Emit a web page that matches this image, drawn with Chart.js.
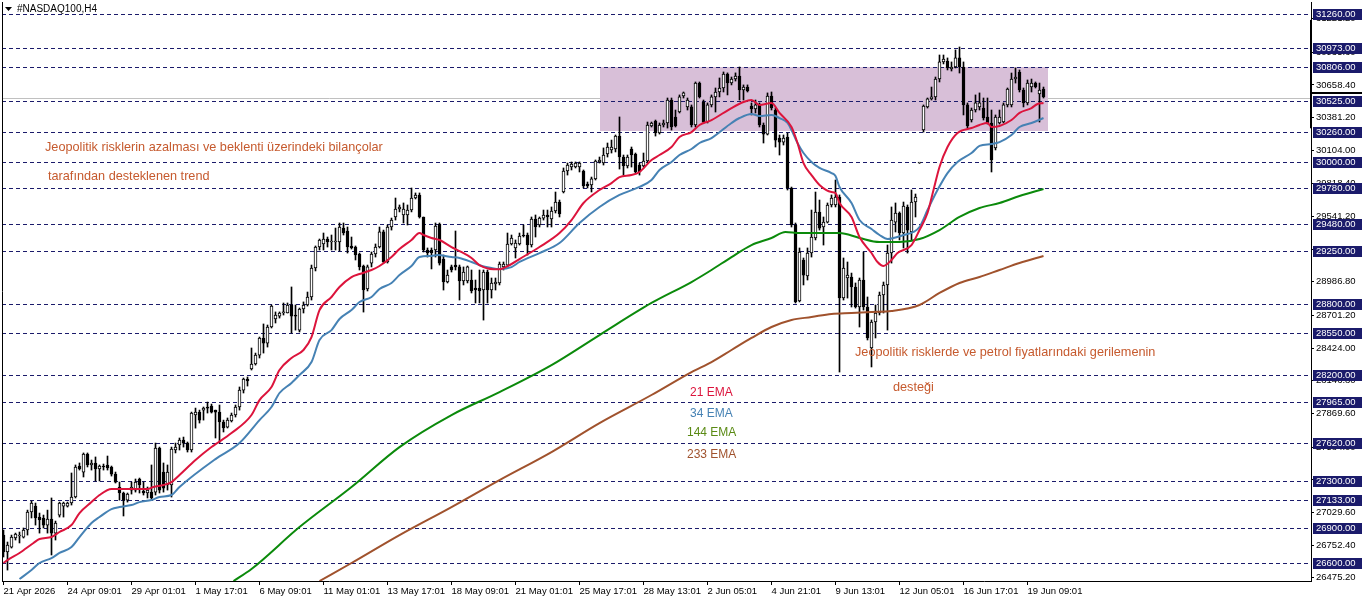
<!DOCTYPE html>
<html>
<head>
<meta charset="utf-8">
<script src="https://cdn.jsdelivr.net/npm/chart.js@4.4.1/dist/chart.umd.min.js"></script>
<style>
  html, body { margin: 0; padding: 0; background: #fff; overflow: hidden; }
</style>
</head>
<body>
<canvas id="chart" width="1362" height="603"></canvas>
<script>
// H4 bars (bar 0 = 21 Apr 2026)
const opens = [
  26837, 26693, 26735, 26812, 26829, 26820, 26880, 27033, 27083, 26990,
  26982, 26922, 26973, 26854, 27007, 27083, 27083, 27109, 27160, 27423,
  27372, 27525, 27432, 27449, 27398, 27423, 27432, 27415, 27355, 27245,
  27194, 27134, 27219, 27219, 27313, 27211, 27194, 27202, 27202, 27576,
  27372, 27262, 27262, 27559, 27602, 27644, 27618, 27559, 27856, 27881,
  27898, 27924, 27932, 27898, 27881, 27797, 27754, 27805, 27856, 27924,
  28068, 28161, 28247, 28289, 28365, 28510, 28467, 28603, 28671, 28696,
  28722, 28722, 28790, 28705, 28577, 28756, 28790, 28858, 29104, 29282,
  29308, 29350, 29325, 29325, 29325, 29443, 29418, 29291, 29282, 29223,
  29121, 28926, 29146, 29223, 29282, 29410, 29155, 29452, 29537, 29605,
  29554, 29554, 29596, 29698, 29724, 29537, 29257, 29257, 29257, 29477,
  29180, 28985, 29113, 29129, 29113, 28994, 28994, 29002, 28934, 28934,
  28917, 29070, 28917, 28968, 28977, 29113, 29129, 29308, 29274, 29308,
  29384, 29384, 29299, 29520, 29469, 29528, 29554, 29520, 29588, 29664,
  29749, 29927, 29961, 29961, 29961, 29927, 29817, 29809, 29860, 30004,
  29995, 30072, 30106, 30114, 30224, 30046, 29970, 30114, 30072, 29978,
  29970, 30012, 30309, 30352, 30250, 30318, 30335, 30530, 30386, 30428,
  30564, 30471, 30471, 30318, 30674, 30513, 30343, 30488, 30556, 30598,
  30632, 30751, 30674, 30708, 30734, 30615, 30640, 30479, 30454, 30488,
  30318, 30241, 30564, 30445, 30207, 30173, 30216, 29783, 29469, 28824,
  29172, 29036, 29231, 29359, 29579, 29452, 29494, 29639, 29639, 29707,
  28849, 29019, 29027, 28943, 28773, 29002, 28773, 28425, 28646, 28722,
  28875, 28960, 29231, 29494, 29571, 29401, 29622, 29410, 29664, 29995,
  30275, 30471, 30539, 30556, 30708, 30853, 30861, 30793, 30810, 30887,
  30810, 30488, 30360, 30445, 30471, 30462, 30386, 30335, 30123, 30335,
  30343, 30488, 30488, 30708, 30768, 30615, 30505, 30640, 30674, 30581,
  30623
];
const highs = [
  26880, 26778, 26837, 26854, 26863, 26897, 27049, 27126, 27109, 27024,
  27007, 27049, 27152, 26956, 27117, 27117, 27117, 27364, 27432, 27449,
  27534, 27534, 27474, 27500, 27432, 27440, 27508, 27423, 27372, 27287,
  27202, 27194, 27287, 27313, 27321, 27287, 27245, 27432, 27618, 27584,
  27449, 27432, 27584, 27618, 27661, 27669, 27627, 27881, 27915, 27898,
  27924, 27966, 27949, 27898, 27941, 27813, 27831, 27873, 27941, 28094,
  28170, 28179, 28425, 28382, 28518, 28629, 28620, 28790, 28731, 28731,
  28807, 28807, 28943, 28790, 28764, 28816, 28900, 29129, 29291, 29350,
  29401, 29367, 29384, 29443, 29486, 29486, 29452, 29367, 29291, 29231,
  29129, 29129, 29240, 29308, 29452, 29426, 29469, 29528, 29698, 29639,
  29656, 29639, 29783, 29741, 29741, 29537, 29274, 29274, 29486, 29486,
  29214, 29087, 29129, 29418, 29129, 29113, 29121, 29087, 29002, 29087,
  29087, 29087, 29019, 29019, 29155, 29155, 29401, 29384, 29342, 29401,
  29469, 29401, 29537, 29554, 29537, 29596, 29596, 29622, 29749, 29681,
  29953, 29995, 30004, 30004, 30004, 29936, 29834, 29876, 30021, 30046,
  30123, 30165, 30190, 30233, 30386, 30063, 30063, 30131, 30080, 29995,
  30080, 30343, 30343, 30360, 30335, 30360, 30547, 30547, 30445, 30573,
  30598, 30547, 30488, 30683, 30683, 30530, 30505, 30573, 30632, 30717,
  30768, 30760, 30725, 30760, 30810, 30658, 30658, 30505, 30530, 30505,
  30335, 30590, 30598, 30462, 30233, 30233, 30250, 29791, 29486, 29274,
  29189, 29274, 29596, 29749, 29681, 29537, 29656, 29724, 29851, 29724,
  29189, 29155, 29061, 28977, 29019, 29240, 28858, 28663, 28790, 28900,
  28985, 29299, 29622, 29656, 29580, 29664, 29639, 29766, 29732, 29999,
  30488, 30547, 30640, 30725, 30912, 30912, 30887, 30853, 30955, 30980,
  30853, 30505, 30462, 30573, 30590, 30547, 30547, 30445, 30403, 30445,
  30505, 30632, 30759, 30802, 30785, 30632, 30700, 30708, 30683, 30674,
  30640
];
const lows = [
  26651, 26540, 26727, 26795, 26770, 26812, 26837, 26982, 26922, 26854,
  26897, 26854, 26668, 26795, 26990, 26990, 27075, 27092, 27152, 27389,
  27330, 27415, 27389, 27296, 27296, 27389, 27389, 27338, 27279, 27134,
  26999, 27117, 27185, 27202, 27194, 27177, 27152, 27143, 27177, 27194,
  27202, 27219, 27160, 27534, 27559, 27584, 27542, 27542, 27745, 27788,
  27813, 27873, 27873, 27661, 27618, 27712, 27746, 27797, 27839, 27898,
  28043, 28102, 28238, 28280, 28340, 28382, 28433, 28595, 28637, 28679,
  28705, 28722, 28552, 28577, 28561, 28722, 28781, 28832, 29079, 29257,
  29257, 29282, 29257, 29257, 29248, 29384, 29231, 29265, 29172, 29087,
  28730, 28909, 29113, 29197, 29274, 29146, 29146, 29426, 29511, 29580,
  29486, 29469, 29580, 29690, 29528, 29240, 29197, 29096, 29197, 29129,
  28917, 28977, 29070, 29087, 28832, 28960, 28977, 28892, 28807, 28807,
  28662, 28807, 28849, 28917, 28960, 29087, 29113, 29299, 29189, 29299,
  29367, 29214, 29282, 29367, 29452, 29511, 29452, 29452, 29571, 29537,
  29741, 29893, 29936, 29953, 29919, 29783, 29783, 29749, 29851, 29995,
  29978, 30046, 30080, 30089, 29944, 29893, 29953, 29961, 29910, 29893,
  29961, 29995, 30301, 30224, 30241, 30301, 30292, 30275, 30301, 30420,
  30547, 30445, 30301, 30301, 30547, 30335, 30335, 30471, 30428, 30556,
  30598, 30573, 30658, 30691, 30530, 30530, 30598, 30403, 30420, 30301,
  30165, 30233, 30445, 30131, 30063, 30148, 29766, 29452, 28807, 28816,
  28960, 29002, 29197, 29342, 29426, 29299, 29486, 29622, 29622, 28221,
  28832, 28849, 28773, 28764, 28603, 28747, 28493, 28264, 28510, 28705,
  28722, 28577, 29146, 29410, 29342, 29274, 29231, 29342, 29537, 29992,
  30258, 30462, 30530, 30530, 30683, 30836, 30785, 30776, 30802, 30759,
  30403, 30292, 30343, 30428, 30445, 30360, 30326, 29919, 30106, 30326,
  30335, 30471, 30471, 30674, 30598, 30471, 30488, 30598, 30632, 30343,
  30547
];
const closes = [
  26693, 26752, 26820, 26846, 26837, 26880, 27033, 27109, 26982, 26965,
  26922, 26973, 26854, 26939, 27109, 27109, 27109, 27160, 27415, 27398,
  27525, 27432, 27449, 27398, 27423, 27415, 27406, 27355, 27287, 27194,
  27134, 27185, 27245, 27287, 27262, 27194, 27219, 27152, 27576, 27219,
  27236, 27372, 27567, 27584, 27644, 27618, 27559, 27873, 27881, 27813,
  27915, 27915, 27881, 27881, 27797, 27746, 27813, 27856, 27924, 28068,
  28161, 28145, 28289, 28365, 28510, 28467, 28603, 28781, 28705, 28722,
  28731, 28790, 28696, 28696, 28756, 28790, 28858, 29104, 29282, 29342,
  29350, 29325, 29333, 29333, 29452, 29401, 29282, 29274, 29214, 29113,
  28917, 29113, 29223, 29282, 29410, 29155, 29452, 29511, 29605, 29622,
  29605, 29596, 29698, 29724, 29537, 29257, 29231, 29231, 29460, 29146,
  28985, 29044, 29087, 29113, 28994, 29070, 29113, 28909, 28917, 28909,
  29070, 28917, 28977, 28985, 29138, 29138, 29308, 29359, 29316, 29376,
  29376, 29299, 29520, 29452, 29528, 29554, 29537, 29588, 29664, 29562,
  29927, 29978, 29987, 29995, 29995, 29800, 29800, 29860, 30012, 30021,
  30063, 30131, 30131, 30224, 30046, 29970, 30046, 30063, 29919, 29919,
  30012, 30318, 30335, 30250, 30318, 30335, 30530, 30301, 30309, 30556,
  30590, 30530, 30318, 30674, 30556, 30343, 30488, 30556, 30598, 30632,
  30751, 30674, 30708, 30734, 30615, 30640, 30607, 30454, 30488, 30318,
  30241, 30564, 30462, 30190, 30173, 30207, 29783, 29469, 28816, 29240,
  29044, 29231, 29367, 29579, 29443, 29494, 29639, 29698, 29707, 28849,
  29104, 29044, 28943, 28773, 29002, 28773, 28510, 28646, 28722, 28875,
  28960, 29231, 29511, 29571, 29401, 29630, 29426, 29664, 29707, 29996,
  30479, 30539, 30556, 30708, 30853, 30878, 30802, 30810, 30887, 30810,
  30488, 30309, 30445, 30505, 30505, 30377, 30335, 30021, 30386, 30386,
  30488, 30623, 30708, 30725, 30615, 30505, 30674, 30674, 30640, 30615,
  30556
];

// moving averages, sampled along the lines (bar index, price)
const ema21Bars = [0, 1, 4, 7.5, 9, 12, 14, 17, 19, 22, 24, 27, 29, 32.5, 36, 37.5, 40, 42, 44, 48, 52, 57, 62, 64, 67, 69, 72, 75, 77, 79, 82, 84, 87, 89, 92, 94, 97, 99, 102, 104, 105, 107, 109, 112, 114, 117, 119, 122.5, 124, 127, 129, 134, 139, 142, 145, 149, 152, 154, 157, 159, 162, 164, 167, 169, 172, 174, 177, 182, 185, 187, 189, 192, 194, 197, 198.5, 200, 202, 204, 207, 208, 209, 212, 214, 217, 218.5, 220, 222, 223.5, 227, 229, 231, 232.5, 234, 236, 238.5, 242, 244, 246, 247, 249, 252, 254, 257, 258.5, 260];
const ema21Values = [26600, 26625, 26685, 26770, 26804, 26821, 26863, 26922, 27024, 27117, 27177, 27228, 27228, 27228, 27228, 27245, 27262, 27287, 27347, 27474, 27584, 27703, 27856, 27983, 28094, 28238, 28340, 28408, 28518, 28747, 28858, 28943, 29027, 29053, 29087, 29121, 29197, 29265, 29342, 29401, 29384, 29359, 29342, 29282, 29248, 29189, 29128, 29094, 29094, 29138, 29180, 29282, 29401, 29511, 29656, 29766, 29825, 29876, 29893, 29919, 30021, 30063, 30131, 30216, 30258, 30318, 30360, 30462, 30513, 30530, 30488, 30505, 30420, 30301, 30165, 29995, 29893, 29809, 29749, 29741, 29656, 29537, 29367, 29231, 29155, 29121, 29172, 29231, 29299, 29426, 29571, 29766, 29961, 30131, 30250, 30292, 30318, 30335, 30301, 30309, 30360, 30420, 30462, 30496, 30505];

const ema34Bars = [4, 7, 9, 12, 14, 17, 19, 22, 24, 27, 29, 32, 34, 37, 39, 42, 44, 53, 59, 64, 67, 69, 72, 74, 77, 79, 82, 84, 87, 89, 92, 94, 97, 99, 102, 104, 107, 108.5, 112, 114, 117, 119, 122, 124, 127, 129, 134, 139, 144, 149, 154, 159, 162, 164, 167, 169, 172, 174, 177, 182, 184, 187, 189, 192, 194, 196, 197, 198.5, 200, 202, 204, 207, 208, 209, 212, 214, 217, 219, 221, 222.5, 225, 227.5, 229, 231, 233.5, 236, 238.5, 242, 244, 247, 249, 252, 254, 257, 260];
const ema34Values = [26464, 26540, 26600, 26642, 26685, 26736, 26820, 26939, 26990, 27058, 27075, 27092, 27117, 27134, 27160, 27177, 27245, 27482, 27618, 27813, 27924, 28043, 28128, 28196, 28306, 28493, 28577, 28671, 28747, 28815, 28858, 28926, 28977, 29044, 29121, 29197, 29206, 29214, 29197, 29189, 29155, 29128, 29104, 29095, 29112, 29155, 29231, 29316, 29486, 29622, 29724, 29792, 29851, 29936, 30004, 30063, 30114, 30165, 30207, 30335, 30377, 30411, 30394, 30403, 30377, 30335, 30275, 30165, 30080, 30004, 29953, 29910, 29885, 29792, 29656, 29511, 29435, 29384, 29350, 29359, 29384, 29410, 29452, 29596, 29766, 29910, 30004, 30080, 30140, 30157, 30173, 30233, 30301, 30335, 30377];

const ema144Bars = [57.5, 62, 74, 87, 99, 112, 124, 137, 149, 162, 172, 177, 182, 187, 192, 195.5, 199, 204, 209, 214, 219, 224, 229, 234, 239, 244, 249, 254, 260];
const ema144Values = [26447, 26549, 26905, 27245, 27584, 27856, 28051, 28280, 28535, 28807, 28985, 29087, 29197, 29299, 29359, 29410, 29401, 29401, 29401, 29359, 29325, 29325, 29350, 29426, 29537, 29613, 29656, 29715, 29775];

const ema233Bars = [79, 87, 99, 112, 124, 137, 149, 162, 172, 177, 182, 187, 192, 197, 202, 207, 212, 217, 222, 229, 234, 239, 244, 249, 254, 260];
const ema233Values = [26447, 26600, 26837, 27075, 27304, 27542, 27788, 28026, 28221, 28306, 28408, 28510, 28603, 28663, 28688, 28714, 28722, 28731, 28739, 28790, 28892, 28977, 29028, 29087, 29146, 29206];

// horizontal levels drawn on the chart, and the shaded zone
const levels = [31260, 30973, 30806, 30525, 30260, 30000, 29780, 29480, 29250, 28800, 28550, 28200, 27965, 27620, 27300, 27133, 26900, 26600];
const zoneBars = [149, 261];
const zonePrices = [30260, 30806];
const bidPrice = 30551;

// axis labels
const priceTicks = [31221.2, 30935.6, 30658.4, 30381.2, 30104.0, 29818.4, 29541.2, 29264.0, 28986.8, 28701.2, 28424.0, 28146.8, 27869.6, 27584.0, 27306.8, 27029.6, 26752.4, 26475.2];
const timeTickBars = [0, 16, 32, 48, 64, 80, 96, 112, 128, 144, 160, 176, 192, 208, 224, 240, 256];
const timeLabels = ['21 Apr 2026', '24 Apr 09:01', '29 Apr 01:01', '1 May 17:01', '6 May 09:01', '11 May 01:01', '13 May 17:01', '18 May 09:01', '21 May 01:01', '25 May 17:01', '28 May 13:01', '2 Jun 05:01', '4 Jun 21:01', '9 Jun 13:01', '12 Jun 05:01', '16 Jun 17:01', '19 Jun 09:01'];

const FONT = '"Liberation Sans", Arial, sans-serif';
const NAVY = '#1b1b6b';
const NOTE = '#c65a2e';

const pts = (xs, ys) => xs.map((x, k) => ({ x: x, y: ys[k] }));
const bodies = opens.map((o, i) => ({ x: i, y: [o, closes[i]] }));
const wicks = lows.map((l, i) => ({ x: i, y: [l, highs[i]] }));
const bodyColors = opens.map((o, i) => closes[i] >= o ? '#ffffff' : '#000000');

function emaLine(label, data, color) {
    return {
        type: 'line',
        label: label,
        data: data,
        borderColor: color,
        borderWidth: 2,
        pointRadius: 0,
        fill: false,
        cubicInterpolationMode: 'monotone'
    };
}

// zone, levels and bid line go under the candles
const underlay = {
    id: 'underlay',
    beforeDatasetsDraw(chart) {
        const { ctx, chartArea: a, scales: { x, y } } = chart;
        ctx.save();
        // bid line
        const by = Math.round(y.getPixelForValue(bidPrice)) + 0.5;
        ctx.strokeStyle = '#c0c0c0';
        ctx.lineWidth = 1;
        ctx.beginPath();
        ctx.moveTo(a.left, by);
        ctx.lineTo(a.right, by);
        ctx.stroke();
        // shaded zone
        const x0 = x.getPixelForValue(zoneBars[0]);
        const x1 = x.getPixelForValue(zoneBars[1]);
        const y0 = y.getPixelForValue(zonePrices[1]);
        const y1 = y.getPixelForValue(zonePrices[0]);
        ctx.fillStyle = '#d8bfd8';
        ctx.fillRect(Math.round(x0), Math.round(y0), Math.round(x1 - x0), Math.round(y1 - y0));
        // dashed levels
        ctx.strokeStyle = NAVY;
        ctx.setLineDash([4, 3]);
        levels.forEach(v => {
            const ly = Math.round(y.getPixelForValue(v)) + 0.5;
            ctx.beginPath();
            ctx.moveTo(a.left, ly);
            ctx.lineTo(a.right - 3, ly);
            ctx.stroke();
        });
        ctx.restore();
    },
    afterDatasetsDraw(chart) {
        const { ctx } = chart;
        ctx.save();
        ctx.textBaseline = 'middle';
        ctx.textAlign = 'left';
        ctx.font = '12.7px ' + FONT;
        ctx.fillStyle = NOTE;
        ctx.fillText('Jeopolitik risklerin azalması ve beklenti üzerindeki bilançolar', 45, 147);
        ctx.fillText('tarafından desteklenen trend', 48, 176);
        ctx.fillText('Jeopolitik risklerde ve petrol fiyatlarındaki gerilemenin', 855, 352);
        ctx.fillText('desteği', 893, 387);
        // legend
        ctx.font = '12px ' + FONT;
        ctx.fillStyle = '#dc143c';
        ctx.fillText('21 EMA', 690, 393);
        ctx.fillStyle = '#4682b4';
        ctx.fillText('34 EMA', 690, 414);
        ctx.fillStyle = '#5a8a14';
        ctx.fillText('144 EMA', 687, 433);
        ctx.fillStyle = '#a0522d';
        ctx.fillText('233 EMA', 687, 455);
        // title
        ctx.fillStyle = '#000';
        ctx.font = '10px ' + FONT;
        ctx.fillText('#NASDAQ100,H4', 17, 9);
        ctx.beginPath();
        ctx.moveTo(5, 7);
        ctx.lineTo(12, 7);
        ctx.lineTo(8.5, 11);
        ctx.closePath();
        ctx.fill();
        ctx.restore();
    },
    afterDraw(chart) {
        const { ctx, chartArea: a, scales: { y } } = chart;
        ctx.save();
        // left frame
        ctx.strokeStyle = '#000';
        ctx.lineWidth = 1;
        ctx.beginPath();
        ctx.moveTo(a.left + 0.5, a.top);
        ctx.lineTo(a.left + 0.5, a.bottom);
        ctx.stroke();
        // price scale marks
        ctx.fillStyle = '#000';
        ctx.fillRect(a.right - 1, y.getPixelForValue(31210), 2, y.getPixelForValue(30290) - y.getPixelForValue(31210));
        ctx.fillRect(a.right, Math.round(y.getPixelForValue(30598)), 1362 - a.right, 2);
        // level boxes
        ctx.font = '9.5px ' + FONT;
        ctx.textBaseline = 'middle';
        ctx.textAlign = 'left';
        levels.forEach(v => {
            const ly = Math.round(y.getPixelForValue(v));
            ctx.fillStyle = NAVY;
            ctx.fillRect(a.right + 2, ly - 5, 1362 - a.right - 2, 11);
            ctx.fillStyle = '#fff';
            ctx.fillText(v.toFixed(2), a.right + 5, ly + 0.5);
        });
        ctx.restore();
    }
};

new Chart(document.getElementById('chart'), {
    type: 'bar',
    data: {
        datasets: [
            emaLine('21 EMA', pts(ema21Bars, ema21Values), '#dc143c'),
            emaLine('34 EMA', pts(ema34Bars, ema34Values), '#4682b4'),
            emaLine('144 EMA', pts(ema144Bars, ema144Values), '#0b8a0b'),
            emaLine('233 EMA', pts(ema233Bars, ema233Values), '#a0522d'),
            {
                label: 'bodies',
                data: bodies,
                backgroundColor: bodyColors,
                borderColor: '#000',
                borderWidth: 1,
                borderSkipped: false,
                barThickness: 3,
                minBarLength: 1,
                grouped: false
            },
            {
                label: 'wicks',
                data: wicks,
                backgroundColor: '#000',
                borderWidth: 0,
                barThickness: 1,
                minBarLength: 1,
                grouped: false
            }
        ]
    },
    options: {
        responsive: false,
        animation: false,
        devicePixelRatio: 1,
        layout: { padding: { left: 2, top: 2, right: 0, bottom: 0 } },
        plugins: {
            legend: { display: false },
            tooltip: { enabled: false }
        },
        scales: {
            x: {
                type: 'linear',
                position: 'bottom',
                offset: false,
                min: -0.375,
                max: 326.875,
                afterBuildTicks: s => { s.ticks = timeTickBars.map(v => ({ value: v })); },
                afterFit: s => { s.height = 22; s.paddingLeft = 0; s.paddingRight = 0; },
                ticks: {
                    callback: (v, i) => timeLabels[i],
                    autoSkip: false,
                    maxRotation: 0,
                    align: 'start',
                    padding: 1,
                    color: '#000',
                    font: { family: FONT, size: 9.5 }
                },
                grid: { offset: false, drawOnChartArea: false, drawTicks: true, tickLength: 4, color: '#000' },
                border: { display: true, color: '#000' }
            },
            y: {
                type: 'linear',
                position: 'right',
                min: 26447.21,
                max: 31361.86,
                afterBuildTicks: s => { s.ticks = priceTicks.map(v => ({ value: v })); },
                afterFit: s => { s.width = 51; s.paddingTop = 0; s.paddingBottom = 0; },
                ticks: {
                    callback: v => v.toFixed(2),
                    padding: 2,
                    color: '#000',
                    font: { family: FONT, size: 9.5 }
                },
                grid: { drawOnChartArea: false, drawTicks: true, tickLength: 3, color: '#000' },
                border: { display: true, color: '#000' }
            }
        }
    },
    plugins: [underlay]
});
</script>
</body>
</html>
